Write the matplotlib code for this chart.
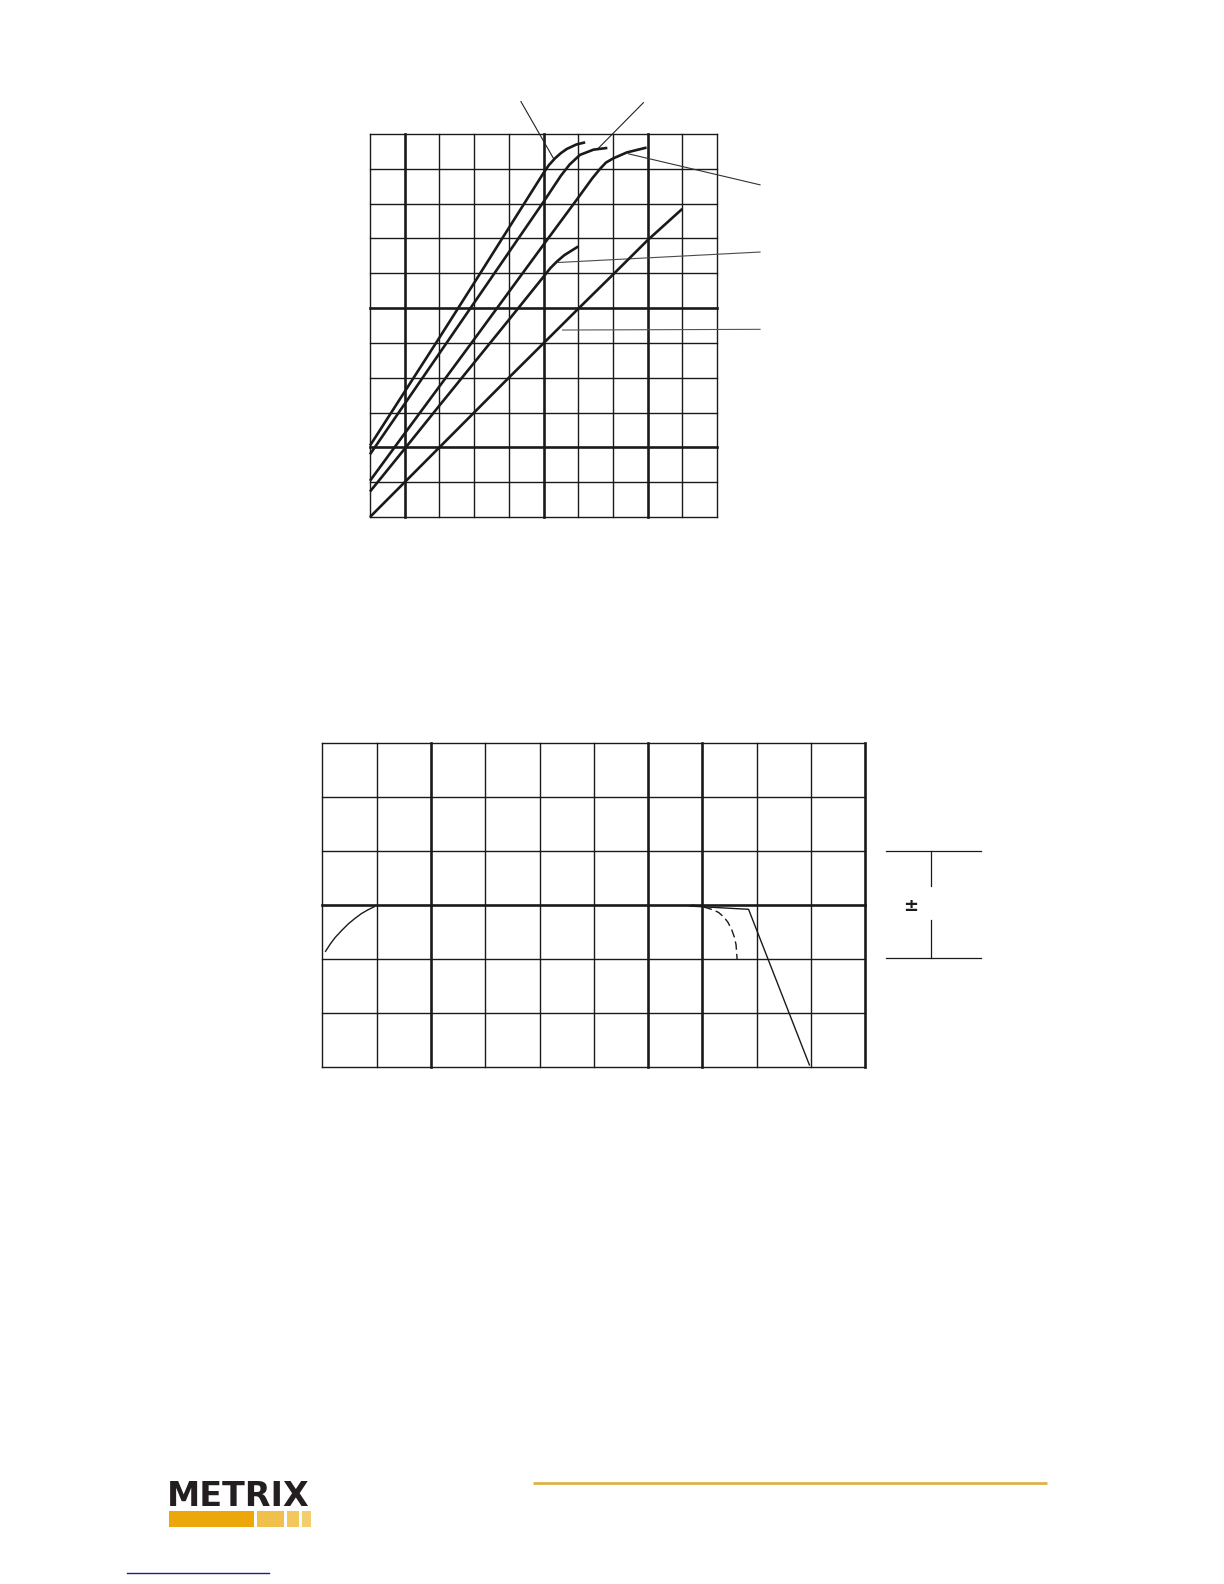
import matplotlib.pyplot as plt
from matplotlib.patches import Rectangle

# top chart: five response curves on a 10 x 11 grid
curve_1_x = [0, 1, 2, 3, 4, 5.0, 5.15, 5.33, 5.5, 5.67, 5.95, 6.2]
curve_1_y = [2.05, 3.6, 5.15, 6.72, 8.3, 9.88, 10.1, 10.3, 10.45, 10.57, 10.7, 10.76]
curve_2_x = [0, 1, 2, 3, 4, 5, 5.5, 5.75, 6.05, 6.44, 6.84]
curve_2_y = [1.8, 3.25, 4.7, 6.15, 7.6, 9.05, 9.8, 10.12, 10.4, 10.55, 10.6]
curve_3_x = [0, 1, 2, 3, 4, 5, 6.0, 6.4, 6.63, 6.8, 7.01, 7.4, 7.97]
curve_3_y = [1.04, 2.4, 3.75, 5.1, 6.46, 7.82, 9.17, 9.72, 10.0, 10.18, 10.3, 10.47, 10.61]
curve_4_x = [0, 1, 2, 3, 4, 5.0, 5.2, 5.4, 5.6, 6.0]
curve_4_y = [0.73, 1.96, 3.2, 4.43, 5.66, 6.9, 7.15, 7.35, 7.52, 7.77]
curve_5_x = [0, 1, 2, 3, 4, 5, 6, 7, 8, 9.0]
curve_5_y = [0, 1.0, 2.0, 3.0, 4.0, 4.99, 5.98, 6.96, 7.95, 8.85]
top_curves = [(curve_1_x, curve_1_y), (curve_2_x, curve_2_y), (curve_3_x, curve_3_y),
              (curve_4_x, curve_4_y), (curve_5_x, curve_5_y)]

# leader lines (labels are missing in the source)
leaders = [((4.35, 5.31), (11.93, 10.26)),
           ((7.88, 6.58), (11.9, 10.59)),
           ((7.45, 11.24), (10.43, 9.54)),
           ((5.43, 11.24), (7.31, 7.61)),
           ((5.55, 11.24), (5.37, 5.39))]
leader_colors = ["#222222", "#222222", "#333333", "#4a4a4a", "#555555"]

top_thick_x = [1, 5, 8]
top_thick_y = [2, 6]

# bottom chart: 10 x 6 grid
low_x = [0.06, 0.15, 0.24, 0.36, 0.48, 0.6, 0.72, 0.84, 0.96]
low_y = [2.14, 2.28, 2.4, 2.53, 2.65, 2.75, 2.84, 2.91, 2.97]
high_x = [6.77, 7.85, 8.97]
high_y = [2.98, 2.92, 0.03]
high_dash_x = [6.8, 7.0, 7.2, 7.3, 7.39, 7.47, 7.54, 7.59, 7.62, 7.64]
high_dash_y = [3.0, 2.97, 2.91, 2.86, 2.78, 2.68, 2.54, 2.4, 2.26, 1.98]
bot_thick_x = [2, 6, 7, 10]
bot_thick_y = [3]


def draw_grid(ax, nx, ny, thick_x, thick_y, thin, thick):
    for i in range(nx + 1):
        ax.plot([i, i], [0, ny], color="#1a1a1a", lw=thick if i in thick_x else thin,
                zorder=1, clip_on=False, solid_capstyle="projecting")
    for j in range(ny + 1):
        ax.plot([0, nx], [j, j], color="#1a1a1a", lw=thick if j in thick_y else thin,
                zorder=1, clip_on=False, solid_capstyle="projecting")
    ax.set_xlim(0, nx)
    ax.set_ylim(0, ny)
    ax.set_xticks([])
    ax.set_yticks([])
    for s in ax.spines.values():
        s.set_visible(False)


fig = plt.figure(figsize=(12.24, 15.84), dpi=100)

ax1 = fig.add_axes([370 / 1224, 1 - 517 / 1584, 347 / 1224, 383 / 1584])
draw_grid(ax1, 10, 11, top_thick_x, top_thick_y, 1.0, 1.9)
for cx, cy in top_curves:
    ax1.plot(cx, cy, color="#1a1a1a", lw=1.9, solid_capstyle="butt", zorder=3, clip_on=False)
for (lx, ly), c in zip(leaders, leader_colors):
    ax1.plot(lx, ly, color=c, lw=0.8, zorder=2, clip_on=False)

ax2 = fig.add_axes([322.3 / 1224, 1 - 1066.5 / 1584, 543 / 1224, 323 / 1584])
draw_grid(ax2, 10, 6, bot_thick_x, bot_thick_y, 1.0, 1.9)
ax2.plot(low_x, low_y, color="#1a1a1a", lw=1.0, zorder=3)
ax2.plot(high_x, high_y, color="#1a1a1a", lw=1.0, zorder=3)
ax2.plot(high_dash_x, high_dash_y, color="#1a1a1a", lw=1.0, ls=(0, (6, 3)), zorder=3)

# tolerance bracket to the right of the bottom chart
ax2.plot([10.38, 12.13], [4.0, 4.0], color="#1a1a1a", lw=0.9, clip_on=False)
ax2.plot([10.38, 12.13], [2.02, 2.02], color="#1a1a1a", lw=0.9, clip_on=False)
ax2.plot([11.21, 11.21], [4.0, 3.36], color="#1a1a1a", lw=0.9, clip_on=False)
ax2.plot([11.21, 11.21], [2.72, 2.02], color="#1a1a1a", lw=0.9, clip_on=False)
ax2.text(10.84, 2.98, "±", ha="center", va="center", fontsize=13, fontweight="bold",
         color="#1a1a1a")

# footer: logo, rule, link underline (pixel coords)
ov = fig.add_axes([0, 0, 1, 1], zorder=-1)
ov.set_xlim(0, 1224)
ov.set_ylim(1584, 0)
ov.axis("off")
ov.text(167, 1506, "METRIX", fontsize=24, fontweight="bold", color="#231f20",
        ha="left", va="baseline", family="DejaVu Sans")
bars = [(169, 254, "#eca80a"), (257, 284, "#f1c04c"), (287, 299, "#f3c75e"), (302, 311, "#f5cd6c")]
for x0, x1, c in bars:
    ov.add_patch(Rectangle((x0, 1511), x1 - x0, 16, color=c, lw=0))
ov.plot([533, 1047], [1483, 1483], color="#dcb445", lw=2.0, solid_capstyle="butt")
ov.plot([127, 269], [1573, 1573], color="#1c1ca0", lw=1.0)

fig.savefig("out.png", dpi=100)
